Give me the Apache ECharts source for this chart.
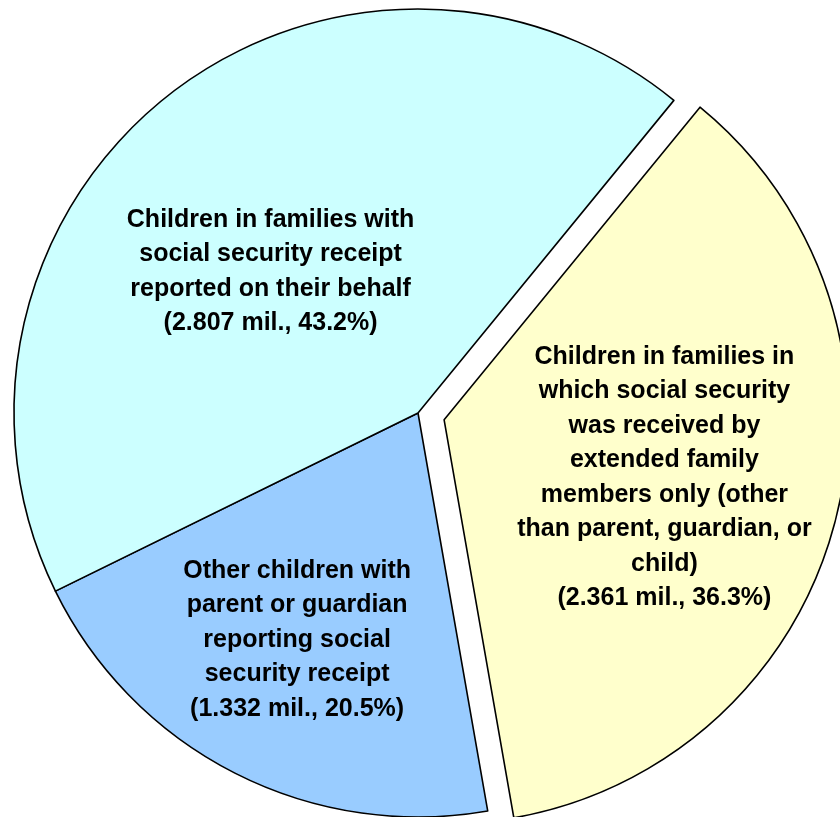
<!DOCTYPE html>
<html>
<head>
<meta charset="utf-8">
<style>
  html, body { margin: 0; padding: 0; background: #ffffff; }
  #chart { width: 840px; height: 817px; }
</style>
<script src="https://cdn.jsdelivr.net/npm/echarts@6/dist/echarts.min.js"></script>
</head>
<body>
<div id="chart"></div>
<script>
// Data (clockwise order from the top-right boundary)
const categories = [
  "Children in families in\nwhich social security\nwas received by\nextended family\nmembers only (other\nthan parent, guardian, or\nchild)",
  "Other children with\nparent or guardian\nreporting social\nsecurity receipt",
  "Children in families with\nsocial security receipt\nreported on their behalf"
];
const values = [2.361, 1.332, 2.807];       // millions
const colors = ["#FFFFCC", "#99CCFF", "#CCFFFF"];
const exploded = [true, false, false];
// label nudges from the default inside position (layout only)
const labelShift = [[22, 6], [-28, 44], [-20, 19]];

const chart = echarts.init(document.getElementById('chart'), null, { renderer: 'canvas' });

const option = {
  animation: false,
  backgroundColor: '#ffffff',
  series: [{
    type: 'pie',
    center: [418, 413],
    radius: 404,
    startAngle: 50.7,
    clockwise: true,
    selectedMode: 'single',
    selectedOffset: 27,
    percentPrecision: 1,
    avoidLabelOverlap: false,
    itemStyle: { borderColor: '#000', borderWidth: 1.6 },
    label: {
      show: true,
      position: 'inside',
      formatter: '{b}\n({c} mil., {d}%)',
      color: '#000',
      fontFamily: '"Liberation Sans", Arial, sans-serif',
      fontWeight: 'bold',
      fontSize: 25,
      lineHeight: 34.5,
      align: 'center'
    },
    labelLine: { show: false },
    emphasis: { disabled: true },
    labelLayout: function (p) {
      const s = labelShift[p.dataIndex];
      return { dx: s[0], dy: s[1] };
    },
    data: categories.map((n, i) => ({
      name: n,
      value: values[i],
      selected: exploded[i],
      itemStyle: { color: colors[i] },
      select: { itemStyle: { color: colors[i], borderColor: '#000', borderWidth: 1.6 } }
    }))
  }]
};
chart.setOption(option);
</script>
</body>
</html>
